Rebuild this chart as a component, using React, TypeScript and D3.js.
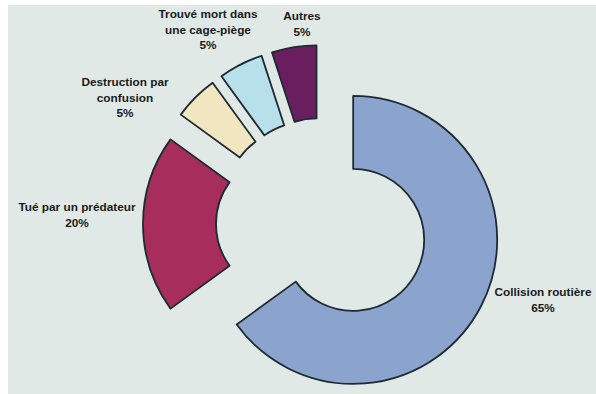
import React from "react";
import * as d3 from "d3";

const categories = [
  "Collision routière",
  "Tué par un prédateur",
  "Destruction par confusion",
  "Trouvé mort dans une cage-piège",
  "Autres",
];
const values = [65, 20, 5, 5, 5];
const labelLines = [
  ["Collision routière"],
  ["Tué par un prédateur"],
  ["Destruction par", "confusion"],
  ["Trouvé mort dans", "une cage-piège"],
  ["Autres"],
];
const colors = ["#8ba4cd", "#a72d5c", "#f2e6c0", "#b7e0ea", "#6b1e5f"];

// layout (not data)
const W = 596;
const H = 394;
const CX = 322;
const CY = 224;
const R_OUT = 144;
const R_IN = 71;
const EXPLODE = 35;
const labelAnchors: [number, number][] = [
  [543, 292],
  [77, 207],
  [125, 82],
  [208, 14],
  [302, 16],
];
const LINE_H = 15.5;

export default function App() {
  const pie = d3
    .pie<number>()
    .sort(null)
    .startAngle(0)
    .endAngle(2 * Math.PI)
    .value((d) => d);
  const arcs = pie(values);
  const arc = d3.arc<d3.PieArcDatum<number>>().innerRadius(R_IN).outerRadius(R_OUT);

  return (
    <svg
      width={W}
      height={H}
      style={{ position: "absolute", left: 0, top: 0, display: "block" }}
    >
      <rect x={0} y={0} width={W} height={H} fill="#ffffff" />
      <rect x={8} y={5} width={W - 8} height={H - 5} fill="#e0e9e6" />
      <g transform={`translate(${CX},${CY})`}>
        {arcs.map((a, i) => {
          const mid = (a.startAngle + a.endAngle) / 2;
          const dx = Math.sin(mid) * EXPLODE;
          const dy = -Math.cos(mid) * EXPLODE;
          return (
            <path
              key={i}
              d={arc(a) || ""}
              transform={`translate(${dx},${dy})`}
              fill={colors[i]}
              stroke="#1d2a33"
              strokeWidth={1.8}
              strokeLinejoin="round"
            />
          );
        })}
      </g>
      {categories.map((c, i) => {
        const [x, y] = labelAnchors[i];
        const lines = [...labelLines[i], `${values[i]}%`];
        return (
          <text
            key={c}
            x={x}
            y={y}
            textAnchor="middle"
            fontFamily="'Liberation Sans', Arial, sans-serif"
            fontWeight="bold"
            fontSize={11.8}
            fill="#1a1a1a"
          >
            {lines.map((l, j) => (
              <tspan key={j} x={x} y={y + j * LINE_H} dy="0.35em">
                {l}
              </tspan>
            ))}
          </text>
        );
      })}
    </svg>
  );
}
